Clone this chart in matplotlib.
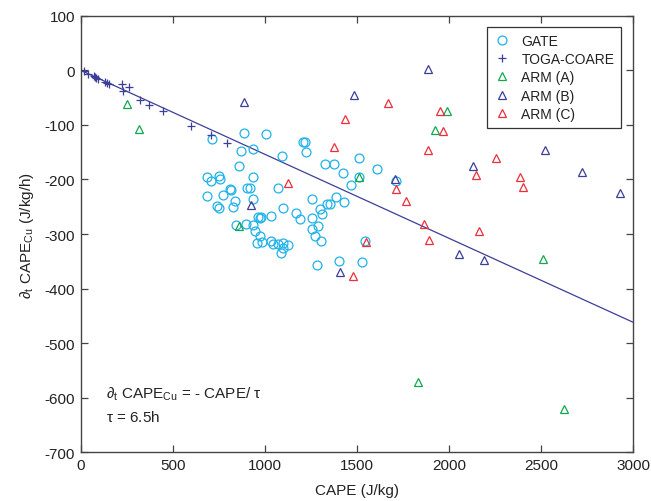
import numpy as np
import matplotlib
matplotlib.use('Agg')
import matplotlib.pyplot as plt

plt.rcParams['font.family'] = ['Liberation Sans', 'DejaVu Sans']
plt.rcParams['mathtext.fontset'] = 'custom'
plt.rcParams['mathtext.rm'] = 'Liberation Sans'
plt.rcParams['mathtext.it'] = 'Liberation Sans'
plt.rcParams['axes.unicode_minus'] = False

# GATE (CAPE J/kg, dCAPE/dt J/kg/h)
gate_x = [712, 888, 1008, 873, 934, 1092, 1206, 1220, 1225, 1326, 1376, 1509,
          1425, 1608, 858, 687, 705, 750, 757, 935, 809, 815, 903, 917, 1074,
          687, 773, 840, 739, 750, 827, 934, 1101, 1254, 1340, 1353, 1389,
          1428, 1299, 1310, 1466, 1511, 1713, 1032, 962, 973, 979, 1167, 1191,
          1254, 1254, 1290, 1274, 1304, 842, 900, 935, 944, 973, 955, 984,
          1031, 1042, 1074, 1098, 1124, 1087, 1101, 1286, 1403, 1527, 1543]
gate_y = [-125, -115, -117, -147, -144, -157, -132, -131, -150, -172, -172, -160,
          -188, -181, -176, -196, -203, -193, -200, -195, -218, -220, -216, -215, -216,
          -231, -229, -239, -248, -252, -250, -235, -252, -236, -245, -245, -233,
          -242, -255, -264, -210, -196, -203, -266, -268, -271, -269, -261, -273,
          -271, -291, -286, -303, -313, -283, -281, -283, -294, -303, -317, -314,
          -312, -319, -318, -317, -320, -334, -326, -357, -350, -351, -312]

# TOGA-COARE
toga_x = [16, 39, 70, 79, 85, 93, 130, 142, 153, 225, 261, 232, 322, 372, 448,
          599, 705, 795]
toga_y = [-2, -6, -11, -13, -15, -16, -21, -23, -26, -26, -30, -38, -54, -63, -75,
          -102, -119, -133]

# ARM (A), (B), (C)
arm_a_x = [252, 318, 858, 1509, 1922, 1988, 2513, 1833, 2626]
arm_a_y = [-61, -107, -286, -195, -109, -75, -346, -571, -621]

arm_b_x = [889, 1484, 927, 1886, 2522, 2133, 1706, 2724, 2930, 2052, 2190, 1407]
arm_b_y = [-58, -46, -247, 3, -146, -176, -200, -186, -224, -336, -347, -370]

arm_c_x = [1434, 1374, 1128, 1551, 1478, 1670, 1951, 1968, 1886, 2253, 2149, 2384,
           2402, 1711, 1768, 1862, 1894, 2163]
arm_c_y = [-90, -141, -206, -314, -376, -60, -75, -111, -146, -161, -192, -195,
           -213, -218, -239, -282, -311, -295]

tau_h = 6.5
line_cape = np.array([0, 3000])

c_gate = '#1fb2ea'
c_navy = '#3c3f98'
c_green = '#10a84e'
c_red = '#ec2f3a'

fig = plt.figure(figsize=(6.51, 5.02), dpi=100)
ax = fig.add_axes([0.124, 0.0968, 0.8484, 0.8699])

ax.plot(line_cape, -line_cape / tau_h, color=c_navy, lw=0.9, zorder=1)

ms = 6.4
ax.plot(gate_x, gate_y, 'o', ms=ms, mfc='none', mec=c_gate, mew=0.9, label='GATE', zorder=2)
ax.plot(toga_x, toga_y, '+', ms=ms, color=c_navy, mew=0.9, label='TOGA-COARE', zorder=3)
ax.plot(arm_a_x, arm_a_y, '^', ms=ms, mfc='none', mec=c_green, mew=0.9, label='ARM (A)', zorder=3)
ax.plot(arm_b_x, arm_b_y, '^', ms=ms, mfc='none', mec=c_navy, mew=0.9, label='ARM (B)', zorder=3)
ax.plot(arm_c_x, arm_c_y, '^', ms=ms, mfc='none', mec=c_red, mew=0.9, label='ARM (C)', zorder=3)

ax.set_xlim(0, 3000)
ax.set_ylim(-700, 100)
ax.set_xticks(np.arange(0, 3001, 500))
ax.set_yticks(np.arange(-700, 101, 100))

for s in ax.spines.values():
    s.set_color('#444444')
    s.set_linewidth(1.0)
ax.tick_params(direction='in', top=True, right=True, length=5, width=0.9,
               color='#444444', labelsize=11, labelcolor='#222222', pad=4)

ax.set_xlabel('CAPE (J/kg)', fontsize=11, color='#222222', labelpad=8)
ax.set_ylabel(r'$\partial_t$ CAPE$_{\rm Cu}$ (J/kg/h)', fontsize=11, color='#222222', labelpad=6)

ax.text(137, -592, r'$\partial_t$ CAPE$_{\rm Cu}$ = - CAPE/ $\tau$', fontsize=11,
        color='#222222', va='center', ha='left')
ax.text(137, -635, r'$\tau$ = 6.5h', fontsize=11, color='#222222', va='center', ha='left')

leg = ax.legend(loc='upper right', bbox_to_anchor=(0.979, 0.974), fontsize=10,
                frameon=True, fancybox=False, edgecolor='#333333', framealpha=1,
                handlelength=1.2, handletextpad=0.8, labelspacing=0.3,
                borderpad=0.5, borderaxespad=0, numpoints=1)
leg.get_frame().set_linewidth(0.9)
for t in leg.get_texts():
    t.set_color('#222222')

fig.savefig('out.png', dpi=100)
